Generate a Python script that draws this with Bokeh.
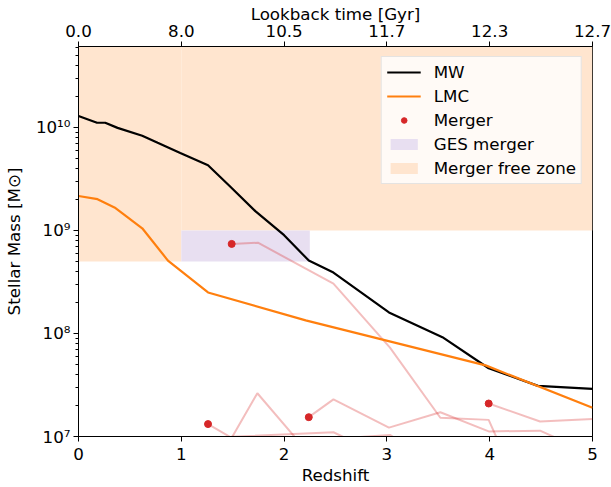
from bokeh.plotting import figure
from bokeh.models import (Range1d, LinearAxis, FixedTicker, CustomJSTickFormatter,
                          Legend, LegendItem)
from bokeh.embed import file_html
from bokeh.resources import INLINE

# ---------------- data ----------------
X_TICKS = [0, 1, 2, 3, 4, 5]
TOP_TICK_LABELS = ["0.0", "8.0", "10.5", "11.7", "12.3", "12.7"]
Y_TICKS = [1e7, 1e8, 1e9, 1e10]

MW_Z = [0.0, 0.18, 0.26, 0.38, 0.62, 0.77, 0.99, 1.26, 1.48, 1.72, 2.0, 2.24,
        2.48, 3.02, 3.54, 3.99, 4.47, 5.0]
MW_MASS = [1.29e10, 1.11e10, 1.11e10, 9.9e9, 8.3e9, 7.1e9, 5.65e9, 4.3e9, 2.64e9,
           1.54e9, 9.0e8, 5.1e8, 3.9e8, 1.6e8, 9.2e7, 4.6e7, 3.1e7, 2.9e7]

LMC_Z = [0.0, 0.185, 0.36, 0.62, 0.87, 1.26, 2.21, 3.96, 5.0]
LMC_MASS = [2.16e9, 2.01e9, 1.65e9, 1.05e9, 5.1e8, 2.5e8, 1.34e8, 4.9e7, 1.9e7]

# merger progenitor tracks (first point = merger)
TRACK_A_Z = [1.49, 1.745, 2.48, 3.03, 3.52, 3.99, 4.49]
TRACK_A_MASS = [7.4e8, 7.6e8, 3.05e8, 7.3e7, 1.52e7, 1.45e7, 1.1e6]
TRACK_B_Z = [1.26, 1.49, 1.74, 2.48]
TRACK_B_MASS = [1.32e7, 9.7e6, 2.63e7, 3.6e6]
TRACK_C_Z = [1.26, 1.49, 2.48, 3.03]
TRACK_C_MASS = [5e6, 9.95e6, 1.1e7, 6e6]
TRACK_D_Z = [2.48, 3.03, 3.52]
TRACK_D_MASS = [9.5e6, 1.035e7, 5e6]
TRACK_E_Z = [2.24, 2.48, 3.02, 3.52, 3.99, 4.49, 5.0]
TRACK_E_MASS = [1.54e7, 2.29e7, 1.22e7, 1.72e7, 1.12e7, 1.14e7, 6.7e6]
TRACK_F_Z = [3.99, 4.49, 5.0]
TRACK_F_MASS = [2.09e7, 1.40e7, 1.48e7]

MERGER_Z = [1.49, 1.26, 2.24, 3.99]
MERGER_MASS = [7.4e8, 1.32e7, 1.54e7, 2.09e7]

FREE_ZONE_LEFT = [0, 1]
FREE_ZONE_RIGHT = [1, 5]
FREE_ZONE_LOWER = [5e8, 1e9]
GES_Z = [1.0, 2.25]
GES_MASS = [5e8, 1e9]

Y_MIN, Y_MAX = 1e7, 6.1e10
FONT = "DejaVu Sans"
FS = "16.7px"

# ---------------- figure ----------------
p = figure(frame_width=514, frame_height=390, y_axis_type="log",
           x_range=Range1d(0, 5), y_range=Range1d(Y_MIN, Y_MAX),
           output_backend="svg", toolbar_location=None,
           min_border_left=78, min_border_right=19, min_border_top=46,
           min_border_bottom=51)
p.xgrid.visible = False
p.ygrid.visible = False
p.outline_line_color = "black"
p.outline_line_alpha = 1.0
p.outline_line_width = 1
p.background_fill_color = "white"
p.border_fill_color = "white"

top = [Y_MAX * 10] * 2
free = p.quad(left=FREE_ZONE_LEFT, right=FREE_ZONE_RIGHT, bottom=FREE_ZONE_LOWER,
              top=top, fill_color="#ffe5cf", line_color=None)
ges = p.quad(left=[GES_Z[0]], right=[GES_Z[1]], bottom=[GES_MASS[0]], top=[GES_MASS[1]],
             fill_color="#e8dff1", line_color=None)

for tz, tm in [(TRACK_A_Z, TRACK_A_MASS), (TRACK_B_Z, TRACK_B_MASS),
               (TRACK_C_Z, TRACK_C_MASS), (TRACK_D_Z, TRACK_D_MASS),
               (TRACK_E_Z, TRACK_E_MASS), (TRACK_F_Z, TRACK_F_MASS)]:
    p.line(tz, tm, line_color="#d62728", line_alpha=0.3, line_width=2)

dots = p.scatter(MERGER_Z, MERGER_MASS, size=7, fill_color="#d62728",
                 line_color="#d62728", marker="circle")
mw = p.line(MW_Z, MW_MASS, line_color="black", line_width=2.2)
lmc = p.line(LMC_Z, LMC_MASS, line_color="#ff7f0e", line_width=2.2)

# axes
bottom_axis = p.below[0]
left_axis = p.left[0]
bottom_axis.ticker = FixedTicker(ticks=X_TICKS)
bottom_axis.axis_label = "Redshift"
left_axis.ticker = FixedTicker(
    ticks=Y_TICKS,
    minor_ticks=[k * 10 ** e for e in range(7, 11) for k in range(2, 10)])
left_axis.formatter = CustomJSTickFormatter(code="""
const sup = {'0':'\u2070','1':'\u00b9','7':'\u2077','8':'\u2078','9':'\u2079'};
const e = Math.round(Math.log10(tick)).toString();
return '10' + e.split('').map(c => sup[c]).join('');
""")
left_axis.axis_label = "Stellar Mass [M\u2299]"

p.extra_x_ranges = {"top": Range1d(0, 5)}
top_axis = LinearAxis(x_range_name="top", ticker=FixedTicker(ticks=X_TICKS),
                      major_label_overrides={t: l for t, l in zip(X_TICKS, TOP_TICK_LABELS)},
                      axis_label="Lookback time [Gyr]")
p.add_layout(top_axis, "above")

for ax in [bottom_axis, left_axis, top_axis]:
    ax.axis_line_color = "black"
    ax.major_tick_line_color = "black"
    ax.minor_tick_line_color = "black"
    ax.major_tick_out = 5
    ax.major_tick_in = 0
    ax.minor_tick_out = 3
    ax.minor_tick_in = 0
    ax.major_label_text_font = FONT
    ax.major_label_text_font_size = FS
    ax.major_label_text_color = "black"
    ax.axis_label_text_font = FONT
    ax.axis_label_text_font_size = FS
    ax.axis_label_text_font_style = "normal"
    ax.axis_label_text_color = "black"
top_axis.major_label_standoff = 5
top_axis.axis_label_standoff = -2
bottom_axis.major_label_standoff = 6
bottom_axis.axis_label_standoff = 2
left_axis.major_label_standoff = 3
left_axis.axis_label_standoff = 9

legend = Legend(items=[
    LegendItem(label="MW", renderers=[mw]),
    LegendItem(label="LMC", renderers=[lmc]),
    LegendItem(label="Merger", renderers=[dots]),
    LegendItem(label="GES merger", renderers=[ges]),
    LegendItem(label="Merger free zone", renderers=[free]),
], location="top_right")
legend.label_text_font = FONT
legend.label_text_font_size = FS
legend.label_text_color = "black"
legend.glyph_width = 34
legend.glyph_height = 14
legend.label_height = 20
legend.spacing = 4
legend.padding = 5
legend.margin = 10
legend.label_standoff = 13
legend.background_fill_color = "white"
legend.background_fill_alpha = 0.8
legend.border_line_color = "#cccccc"
legend.border_line_width = 1
p.add_layout(legend)

open("out.html", "w").write(file_html(p, INLINE))
